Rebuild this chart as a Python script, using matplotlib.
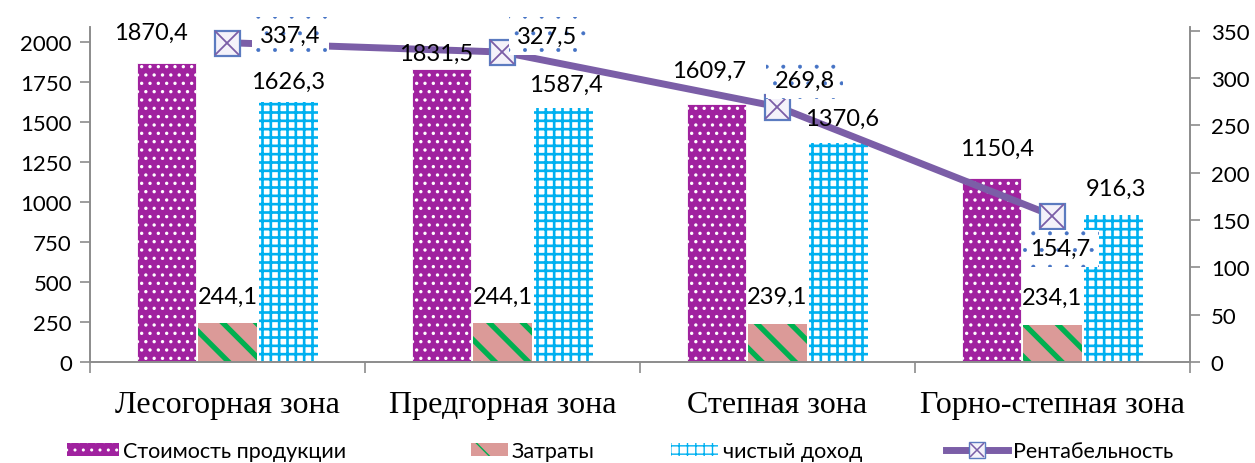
import numpy as np
import matplotlib.pyplot as plt
from matplotlib.patches import Patch
from matplotlib.lines import Line2D

# ---- data ----
zones = ["Лесогорная зона", "Предгорная зона", "Степная зона", "Горно-степная зона"]
cost = [1870.4, 1831.5, 1609.7, 1150.4]
expenses = [244.1, 244.1, 239.1, 234.1]
income = [1626.3, 1587.4, 1370.6, 916.3]
profit = [337.4, 327.5, 269.8, 154.7]

left_ticks = [0, 250, 500, 750, 1000, 1250, 1500, 1750, 2000]
right_ticks = [0, 50, 100, 150, 200, 250, 300, 350]

purple = "#A0229F"
green = "#00B050"
rose = "#DB9A98"
blue = "#00B0F0"
line_col = "#7B5EA7"
mark_edge = "#5B7BC0"
grey = "#8C8C8C"

plt.rcParams["font.family"] = ["Lato", "DejaVu Sans"]
fs_tick = 16
fs_val = 17


def fmt(v):
    return f"{v:.1f}".replace(".", ",")


fig = plt.figure(figsize=(12.55, 4.64), dpi=100)
ax = fig.add_axes([0.0717, 0.2177, 0.8765, 0.722])
ax2 = ax.twinx()

x = np.arange(len(zones))
w = 0.216
step = 0.222

with plt.rc_context({"hatch.linewidth": 1.2}):
    b1 = ax.bar(x - step, cost, w, color=purple, edgecolor="white", hatch="..", linewidth=0.6)
with plt.rc_context({"hatch.linewidth": 3.8}):
    b2 = ax.bar(x, expenses, w, color=rose, edgecolor=green, hatch="\\", linewidth=0)
with plt.rc_context({"hatch.linewidth": 1.9}):
    b3 = ax.bar(x + step, income, w, color="white", edgecolor=blue, hatch="++", linewidth=0)

ax.set_xlim(-0.5, len(zones) - 0.5)
ax.set_ylim(0, 2094)
ax.set_yticks(left_ticks)
ax.set_yticklabels([str(t) for t in left_ticks], fontsize=fs_tick)
ax.set_xticks(x)
ax.set_xticklabels(zones, fontsize=23, family=["Liberation Serif", "DejaVu Serif"])
ax.set_xticks(np.arange(len(zones) + 1) - 0.5, minor=True)
ax.tick_params(axis="x", which="major", length=0, pad=20)
ax.tick_params(axis="x", which="minor", length=8, color=grey, width=1.2)
ax.tick_params(axis="y", length=7, color=grey, width=1.2, pad=6)

# profitability line on the secondary axis
ax2.set_ylim(0, 354)
ax2.set_yticks(right_ticks)
ax2.set_yticklabels([str(t) for t in right_ticks], fontsize=fs_tick)
ax2.tick_params(axis="y", length=7, color=grey, width=1.2, pad=8)
ax2.plot(x, profit, color=line_col, lw=5, solid_capstyle="butt", zorder=3)
ax2.plot(x, profit, ls="none", marker="s", ms=18, mfc="#F4F2FA", mec=mark_edge, mew=1.6, zorder=4)
ax2.plot(x, profit, ls="none", marker="x", ms=17, mec=line_col, mew=1.3, zorder=5)

# bar value labels (drawn on ax2 so they sit above the line)
cost_off = [(-16, 30), (-5, 16), (-7, 34), (6, 30)]
inc_off = [(0, 20), (2, 24), (4, 24), (2, 27)]
for i in range(len(zones)):
    ax2.annotate(fmt(cost[i]), (x[i] - step, cost[i]), xycoords=ax.transData,
                 xytext=cost_off[i], textcoords="offset pixels",
                 ha="center", va="center", fontsize=fs_val, zorder=7)
    ax2.annotate(fmt(expenses[i]), (x[i], expenses[i]), xycoords=ax.transData,
                 xytext=(0, 27), textcoords="offset pixels",
                 ha="center", va="center", fontsize=fs_val, zorder=7)
    ax2.annotate(fmt(income[i]), (x[i] + step, income[i]), xycoords=ax.transData,
                 xytext=inc_off[i], textcoords="offset pixels",
                 ha="center", va="center", fontsize=fs_val, zorder=7)

line_offsets = [(63, 7), (45, 16), (27, 26), (8, -33)]
with plt.rc_context({"hatch.linewidth": 0.4}):
    for i in range(len(zones)):
        ax2.annotate(fmt(profit[i]), (x[i], profit[i]), xytext=line_offsets[i],
                     textcoords="offset pixels", ha="center", va="center",
                     fontsize=fs_val, zorder=6,
                     bbox=dict(boxstyle="square,pad=0.35", fc="white", ec="#4472C4",
                               lw=0, hatch="."))

for a in (ax, ax2):
    a.spines["top"].set_visible(False)
    for side in ("left", "right", "bottom"):
        a.spines[side].set_color(grey)
        a.spines[side].set_linewidth(1.2)

# legend entries placed one by one along the bottom
fs_leg = 15.5
legend_items = [
    (Patch(facecolor=purple, edgecolor="white", hatch="..", lw=0), "Стоимость продукции", 67, 2.4),
    (Patch(facecolor=rose, edgecolor=green, hatch="\\", lw=0), "Затраты", 471, 1.7),
    (Patch(facecolor="white", edgecolor=blue, hatch="++", lw=0), "чистый доход", 671, 2.2),
    ((Line2D([], [], color=line_col, lw=5, marker="s", ms=11, mfc="#F4F2FA", mec=mark_edge),
      Line2D([], [], ls="none", marker="x", ms=10, mec=line_col, mew=1.1)),
     "Рентабельность", 946, 2.9),
]
for handle, label, x0, hl in legend_items:
    fig.legend([handle], [label], loc="center left", bbox_to_anchor=(x0 / 1255, 12 / 464),
               frameon=False, fontsize=fs_leg, handlelength=hl, handleheight=0.55,
               handletextpad=0.2, borderpad=0, borderaxespad=0)

fig.savefig("out.png", dpi=100)
